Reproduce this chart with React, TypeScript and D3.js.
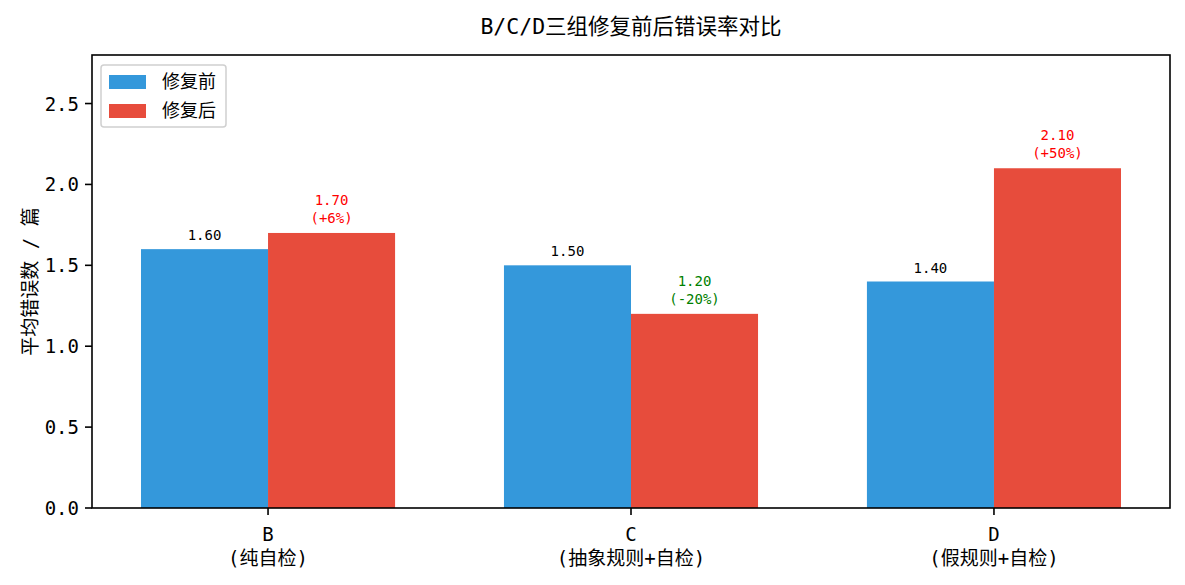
import React from "react";
import * as d3 from "d3";

const categories = ["B", "C", "D"];
const subLabels = ["(纯自检)", "(抽象规则+自检)", "(假规则+自检)"];
const beforeVals = [1.6, 1.5, 1.4];
const afterVals = [1.7, 1.2, 2.1];
const yTicks = [0.0, 0.5, 1.0, 1.5, 2.0, 2.5];
const seriesNames = ["修复前", "修复后"];
const seriesColors = ["#3498db", "#e74c3c"];

const W = 1185;
const H = 585;
const FONT = "'DejaVu Sans Mono', 'Noto Sans CJK SC', sans-serif";

export default function App() {
  const left = 92, right = 1170, top = 55, bottom = 508;
  const barW = 0.35;
  const x = d3.scaleLinear().domain([-0.485, 2.485]).range([left, right]);
  const y = d3.scaleLinear().domain([0, 2.8]).range([bottom, top]);
  const bw = x(barW) - x(0);

  return (
    <svg width={W} height={H} style={{ position: "absolute", left: 0, top: 0, background: "#fff" }} fontFamily={FONT}>
      <rect x={0} y={0} width={W} height={H} fill="#fff" />
      {/* title */}
      <text x={(left + right) / 2} y={34} textAnchor="middle" fontSize={21.5} fill="#000">
        B/C/D三组修复前后错误率对比
      </text>
      {/* bars */}
      {categories.map((c, i) => {
        const b = beforeVals[i];
        const a = afterVals[i];
        const pct = Math.round(((a - b) / b) * 100);
        const pctStr = (pct > 0 ? "+" : "") + pct + "%";
        const col = pct > 0 ? "#ff0000" : "#008000";
        return (
          <g key={c}>
            <rect x={x(i - barW)} y={y(b)} width={bw} height={y(0) - y(b)} fill={seriesColors[0]} />
            <rect x={x(i)} y={y(a)} width={bw} height={y(0) - y(a)} fill={seriesColors[1]} />
            <text x={x(i - barW / 2)} y={y(b) - 9} textAnchor="middle" fontSize={14} fill="#000">
              {b.toFixed(2)}
            </text>
            <text x={x(i + barW / 2)} y={y(a) - 28} textAnchor="middle" fontSize={14} fill={col}>
              {a.toFixed(2)}
            </text>
            <text x={x(i + barW / 2)} y={y(a) - 10} textAnchor="middle" fontSize={14} fill={col}>
              {"(" + pctStr + ")"}
            </text>
          </g>
        );
      })}
      {/* y ticks */}
      {yTicks.map((t) => (
        <g key={t}>
          <line x1={left - 7} x2={left} y1={y(t)} y2={y(t)} stroke="#000" strokeWidth={1.6} />
          <text x={left - 13} y={y(t) + 7} textAnchor="end" fontSize={19} fill="#000">
            {t.toFixed(1)}
          </text>
        </g>
      ))}
      {/* x ticks */}
      {categories.map((c, i) => (
        <g key={c}>
          <line x1={x(i)} x2={x(i)} y1={bottom} y2={bottom + 7} stroke="#000" strokeWidth={1.6} />
          <text x={x(i)} y={541} textAnchor="middle" fontSize={19} fill="#000">
            {c}
          </text>
          <text x={x(i)} y={565} textAnchor="middle" fontSize={19} fill="#000">
            {subLabels[i]}
          </text>
        </g>
      ))}
      {/* y label */}
      <text transform={`translate(37, ${(top + bottom) / 2}) rotate(-90)`} textAnchor="middle" fontSize={19} fill="#000">
        平均错误数 / 篇
      </text>
      {/* frame */}
      <rect x={left} y={top} width={right - left} height={bottom - top} fill="none" stroke="#000" strokeWidth={1.6} />
      {/* legend */}
      <g>
        <rect x={101} y={65} width={125} height={62} rx={3} fill="#fff" fillOpacity={0.8} stroke="#d0d0d0" strokeWidth={1.5} />
        {seriesNames.map((s, k) => (
          <g key={s}>
            <rect x={109} y={75 + k * 29} width={37} height={14} fill={seriesColors[k]} />
            <text x={162} y={88 + k * 29} fontSize={18} fill="#000">
              {s}
            </text>
          </g>
        ))}
      </g>
    </svg>
  );
}
